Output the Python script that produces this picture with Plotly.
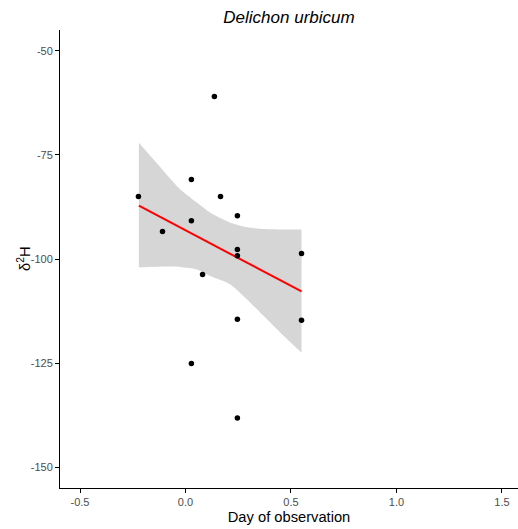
import plotly.graph_objects as go

# Observations (day of observation, delta 2H)
obs_day = [-0.223, -0.109, 0.028, 0.028, 0.028, 0.081, 0.137, 0.166,
           0.246, 0.246, 0.246, 0.246, 0.246, 0.550, 0.550]
obs_d2h = [-85.0, -93.4, -80.9, -90.8, -125.1, -103.7, -61.0, -85.0,
           -89.6, -97.7, -99.2, -114.5, -138.2, -98.7, -114.7]

# Fitted linear trend
fit_day = [-0.221, 0.550]
fit_d2h = [-87.2, -107.8]

# Confidence band
band_day = [-0.221, -0.103, -0.024, 0.055, 0.118, 0.213, 0.292, 0.371, 0.450, 0.550]
band_upper = [-72.1, -78.9, -83.3, -86.5, -88.9, -91.3, -92.4, -92.8, -92.9, -92.9]
band_lower = [-102.0, -101.8, -101.9, -102.5, -104.1, -106.1, -109.7, -113.7, -117.7, -122.5]

x_ticks = [-0.5, 0.0, 0.5, 1.0, 1.5]
x_tick_labels = ["-0.5", "0.0", "0.5", "1.0", "1.5"]
y_ticks = [-50, -75, -100, -125, -150]
y_tick_labels = ["-50", "-75", "-100", "-125", "-150"]

FONT = "Liberation Sans, Arial, sans-serif"
W, H = 518, 529
ML, MR, MT, MB = 60, 0, 30, 41

fig = go.Figure()

fig.add_trace(go.Scatter(
    x=band_day, y=band_lower, mode="lines",
    line=dict(width=0, shape="spline", smoothing=0.6),
    hoverinfo="skip", showlegend=False,
))
fig.add_trace(go.Scatter(
    x=band_day, y=band_upper, mode="lines", fill="tonexty",
    fillcolor="rgba(153,153,153,0.4)",
    line=dict(width=0, shape="spline", smoothing=0.6),
    hoverinfo="skip", showlegend=False,
))

fig.add_trace(go.Scatter(
    x=fit_day, y=fit_d2h, mode="lines",
    line=dict(color="#FF0000", width=2), showlegend=False,
))

fig.add_trace(go.Scatter(
    x=obs_day, y=obs_d2h, mode="markers",
    marker=dict(color="black", size=5.5), showlegend=False,
))

fig.update_layout(
    width=W, height=H,
    margin=dict(l=ML, r=MR, t=MT, b=MB),
    paper_bgcolor="white", plot_bgcolor="white",
    font=dict(family=FONT, color="black"),
    title=dict(text="<i>Delichon urbicum</i>", x=0.5, xref="paper",
               xanchor="center", y=1 - 17 / H, yref="container",
               yanchor="middle", font=dict(size=17, family=FONT, color="black")),
    xaxis=dict(
        range=[-0.5948, 1.576], tickvals=x_ticks, ticktext=x_tick_labels,
        showgrid=False, zeroline=False, showline=True, linecolor="black",
        linewidth=1, ticks="outside", ticklen=4, tickcolor="black",
        tickfont=dict(size=11, color="#4D4D4D", family=FONT),
        title=dict(text="Day of observation", standoff=4,
                   font=dict(size=14.7, family=FONT, color="black")),
        automargin=False,
    ),
    yaxis=dict(
        range=[-155, -45], tickvals=y_ticks, ticktext=y_tick_labels,
        showgrid=False, zeroline=False, showline=True, linecolor="black",
        linewidth=1, ticks="outside", ticklen=4, tickcolor="black",
        tickfont=dict(size=11, color="#4D4D4D", family=FONT),
        automargin=False,
    ),
    annotations=[dict(
        text="δ<sup>2</sup>H", textangle=-90, showarrow=False,
        xref="paper", yref="paper",
        x=(24 - ML) / (W - ML - MR), xanchor="center",
        y=0.5, yanchor="middle",
        font=dict(size=14.7, family=FONT, color="black"),
    )],
)

fig.write_html("out.html",
               config={"displayModeBar": False},
               post_script="document.body.style.margin='0';document.body.style.overflow='hidden';")
